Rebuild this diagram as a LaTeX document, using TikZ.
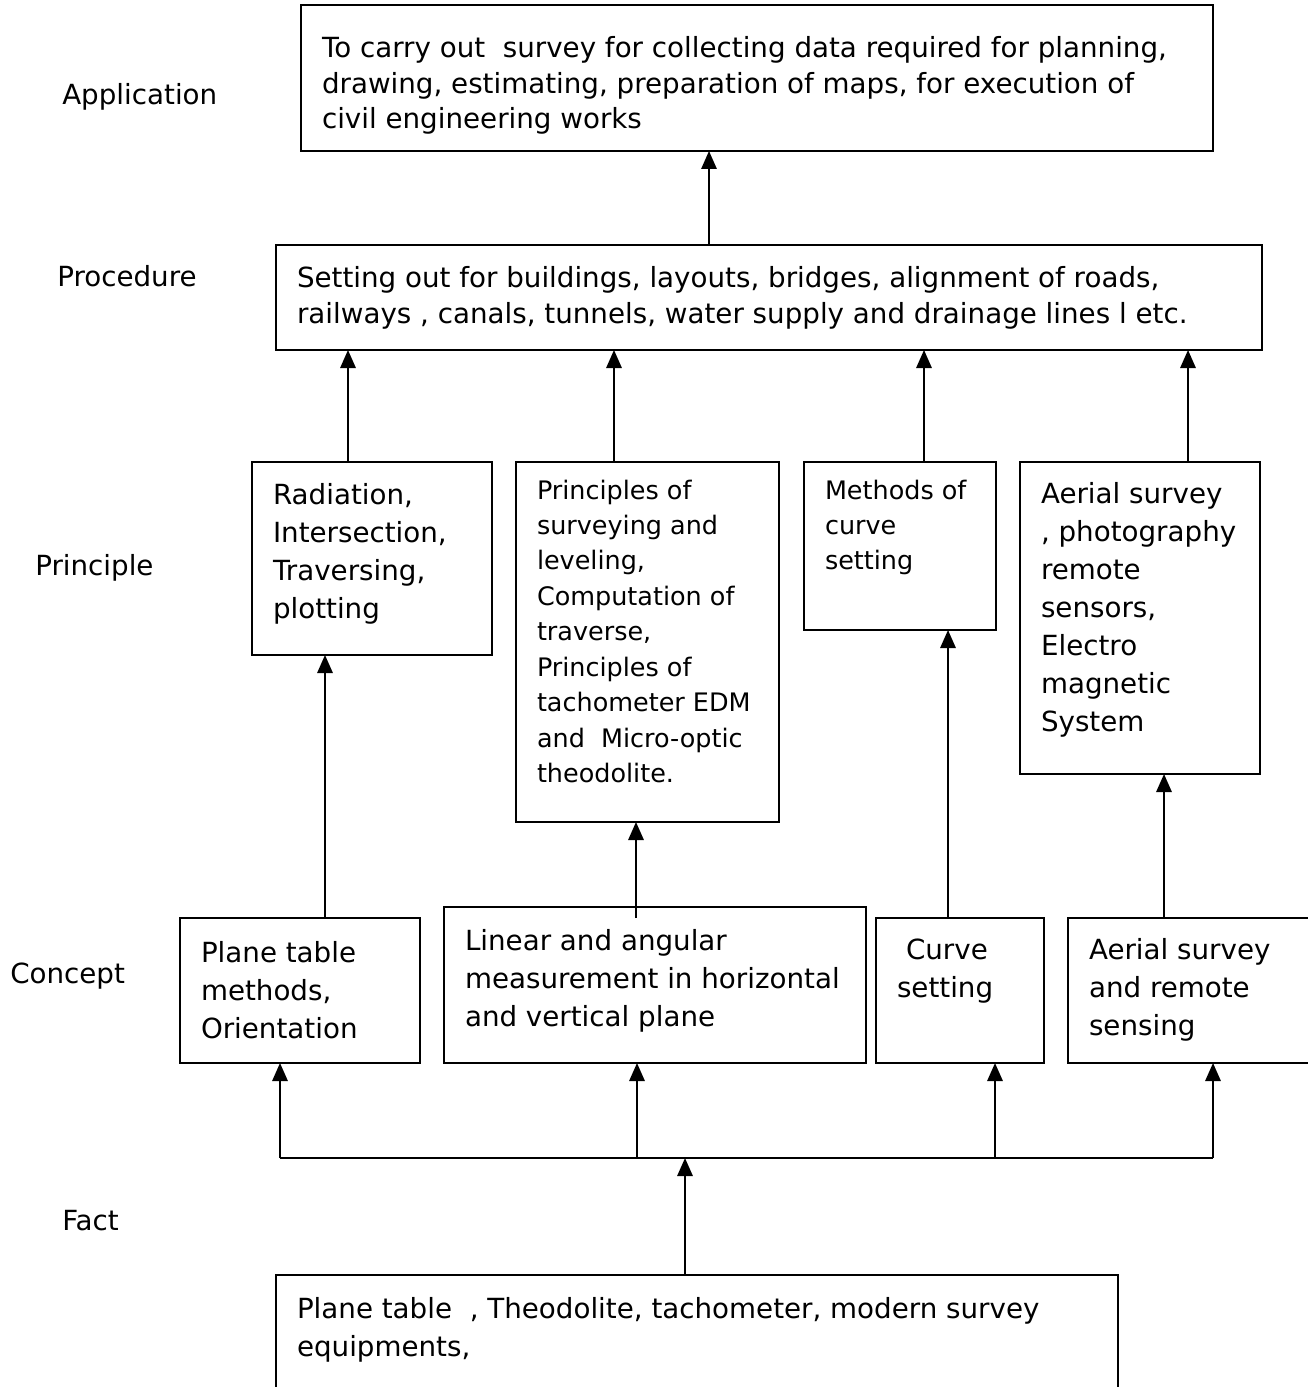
\documentclass[tikz,border=0pt]{standalone}
\usepackage{fontspec}
\setmainfont{DejaVu Sans}
\usepackage{tikz}
\usetikzlibrary{arrows.meta,positioning}

\newlength{\px}\setlength{\px}{0.75pt}
% box text: [first baseline]{width}{height}{text}, all in px
\newcommand{\boxtext}[4][42]{\begin{minipage}[t][#3\px][t]{#2\px}\raggedright\leftskip=21\px\rule{0pt}{#1\px}#4\end{minipage}}
\newcommand{\bigtxt}{\fontsize{20.8}{28.5}\selectfont}
\newcommand{\midtxt}{\fontsize{20.8}{26.3}\selectfont}
\newcommand{\smalltxt}{\fontsize{19.1}{26.6}\selectfont}

\tikzset{
  box/.style={draw, line width=1.5pt, inner sep=0pt, outer sep=0pt, anchor=north west, font=\bigtxt},
  lbl/.style={anchor=base west, inner sep=0pt, font=\bigtxt},
  arr/.style={line width=1.5pt, -{Triangle[length=13.5pt,width=11.5pt]}},
  wire/.style={line width=1.5pt},
}

\begin{document}
\begin{tikzpicture}[x=0.75pt,y=0.75pt,yscale=-1,xscale=1]
\useasboundingbox (0,0) rectangle (1307,1387);

% Text Node
\node[lbl] (application) at (62,105) {Application};
\node[lbl] (procedure) at (57,287) {Procedure};
\node[lbl] (principle) at (35,575) {Principle};
\node[lbl] (concept) at (10,983) {Concept};
\node[lbl] (fact) at (62,1230) {Fact};

% Text Node
\node[box, font=\midtxt] (app) at (301,5) {\boxtext[53]{912}{146}{To carry out\ \ survey for collecting data required for planning,\\drawing, estimating, preparation of maps, for execution of\\civil engineering works}};
% Text Node
\node[box, font=\midtxt] (proc) at (276,245) {\boxtext[43]{986}{105}{Setting out for buildings, layouts, bridges, alignment of roads,\\railways , canals, tunnels, water supply and drainage lines l etc.}};

% Text Node
\node[box] (p1) at (252,462) {\boxtext[42]{240}{193}{Radiation,\\Intersection,\\Traversing,\\plotting}};
\node[box, font=\smalltxt] (p2) at (516,462) {\boxtext[37]{263}{360}{Principles of\\surveying and\\leveling,\\Computation of\\traverse,\\Principles of\\tachometer EDM\\and\ \ Micro-optic\\theodolite.}};
\node[box, font=\smalltxt] (p3) at (804,462) {\boxtext[37]{192}{168}{Methods of\\curve\\setting}};
\node[box] (p4) at (1020,462) {\boxtext[41]{240}{312}{Aerial survey\\, photography\\remote\\sensors,\\Electro\\magnetic\\System}};

% Text Node
\node[box] (c1) at (180,918) {\boxtext[44]{240}{145}{Plane table\\methods,\\Orientation}};
\node[box] (c2) at (444,907) {\boxtext[43]{422}{156}{Linear and angular\\measurement in horizontal\\and vertical plane}};
\node[box] (c3) at (876,918) {\boxtext[41]{168}{145}{\hspace*{9\px}Curve\\setting}};
\node[box] (c4) at (1068,918) {\boxtext[41]{252}{145}{Aerial survey\\and remote\\sensing}};

% Text Node
\node[box] (fct) at (276,1275) {\boxtext[43]{842}{125}{Plane table\ \ , Theodolite, tachometer, modern survey\\equipments,}};

%Straight Lines
\draw[arr] (proc.north -| 709,0) -- (app.south -| 709,0);
\draw[arr] (p1.north -| 348,0) -- (proc.south -| 348,0);
\draw[arr] (p2.north -| 614,0) -- (proc.south -| 614,0);
\draw[arr] (p3.north -| 924,0) -- (proc.south -| 924,0);
\draw[arr] (p4.north -| 1188,0) -- (proc.south -| 1188,0);

%Straight Lines
\coordinate (c2in) at (636,918);
\draw[arr] (c1.north -| 325,0) -- (p1.south -| 325,0);
\draw[arr] (c2in) -- (p2.south -| c2in);
\draw[arr] (c3.north -| 948,0) -- (p3.south -| 948,0);
\draw[arr] (c4.north -| 1164,0) -- (p4.south -| 1164,0);

%Straight Lines
\coordinate (bus) at (685,1158);
\coordinate (busL) at (280,1158);
\coordinate (busR) at (1213,1158);
\draw[wire] (busL) -- (busR);
\draw[arr] (fct.north -| bus) -- (bus);
\draw[arr] (busL) -- (busL |- c1.south);
\draw[arr] (bus -| 637,0) -- (c2.south -| 637,0);
\draw[arr] (bus -| 995,0) -- (c3.south -| 995,0);
\draw[arr] (busR) -- (busR |- c4.south);

\end{tikzpicture}
\end{document}
